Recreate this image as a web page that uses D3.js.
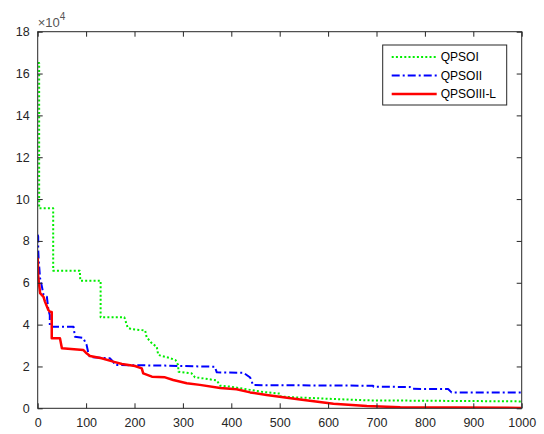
<!DOCTYPE html>
<html>
<head>
<meta charset="utf-8">
<script src="https://cdn.jsdelivr.net/npm/d3@7"></script>
<style>
  html, body { margin: 0; padding: 0; background: #fff; }
  svg { display: block; font-family: "Liberation Sans", Arial, sans-serif; }
</style>
</head>
<body>
<div id="chart"></div>
<script>
// values in units of 1e4, x = iteration
var qpso1 = [[0,16.5],[3,16.5],[3,9.56],[32,9.56],[32,6.58],[87,6.58],[88,6.1],[130,6.1],[130,4.35],[179,4.35],[186,3.85],[194,3.78],[222,3.72],[225,3.4],[236,3.1],[246,2.94],[249,2.55],[273,2.4],[285,2.3],[290,2.07],[291,1.75],[318,1.67],[325,1.48],[346,1.42],[370,1.33],[377,1.08],[400,1.03],[439,0.88],[466,0.78],[501,0.7],[502,0.56],[535,0.52],[597,0.46],[680,0.38],[1000,0.33]];
var qpso2 = [[0,8.3],[1,8.2],[1,7.6],[2,7.1],[5,6.2],[8,5.9],[12,5.42],[19,5.33],[22,4.7],[25,4.46],[25,3.9],[74,3.9],[77,3.42],[94,3.36],[101,3.03],[105,2.6],[108,2.45],[149,2.39],[156,2.23],[160,2.07],[263,2.04],[335,2.0],[366,1.99],[370,1.72],[425,1.7],[439,1.47],[445,1.11],[693,1.08],[694,1.03],[769,1.02],[773,0.93],[848,0.92],[855,0.76],[1000,0.76]];
var qpso3 = [[0,7.2],[1,6.3],[5,5.5],[12,5.33],[15,5.1],[22,4.7],[25,4.62],[29,4.6],[29,3.35],[46,3.35],[50,2.87],[94,2.79],[101,2.63],[108,2.5],[132,2.39],[156,2.23],[174,2.12],[201,2.02],[215,1.91],[218,1.67],[236,1.51],[263,1.48],[280,1.35],[308,1.2],[335,1.12],[377,0.97],[411,0.91],[439,0.76],[473,0.64],[542,0.42],[611,0.22],[680,0.11],[749,0.05],[1000,0.02]];

var xTicks = [0,100,200,300,400,500,600,700,800,900,1000];
var yTicks = [0,2,4,6,8,10,12,14,16,18];

var series = [
  {name: 'QPSOI', data: qpso1, color: '#00ee00', dash: '2,2.2', width: 2},
  {name: 'QPSOII', data: qpso2, color: '#0000ff', dash: '8,3,2,3', width: 2},
  {name: 'QPSOIII-L', data: qpso3, color: '#ff0000', dash: null, width: 2.5}
];

var W = 544, H = 434;
var m = {left: 37.7, right: 22.3, top: 31.7, bottom: 25.7};
var iw = W - m.left - m.right, ih = H - m.top - m.bottom;
var axisColor = '#262626';

var svg = d3.select('#chart').append('svg').attr('width', W).attr('height', H);
var g = svg.append('g').attr('transform', 'translate(' + m.left + ',' + m.top + ')');

var x = d3.scaleLinear().domain([0, 1000]).range([0, iw]);
var y = d3.scaleLinear().domain([0, 18]).range([ih, 0]);

g.append('defs').append('clipPath').attr('id', 'clip')
  .append('rect').attr('width', iw).attr('height', ih);

var line = d3.line().x(function(d) { return x(d[0]); }).y(function(d) { return y(d[1]); });

var plot = g.append('g').attr('clip-path', 'url(#clip)');
series.forEach(function(s) {
  plot.append('path')
    .attr('d', line(s.data))
    .attr('fill', 'none')
    .attr('stroke', s.color)
    .attr('stroke-width', s.width)
    .attr('stroke-dasharray', s.dash)
    .attr('stroke-linejoin', 'round');
});

// axes: ticks inward on all four sides
function styleAxis(sel) {
  sel.select('.domain').remove();
  sel.selectAll('.tick line').attr('stroke', axisColor);
  sel.selectAll('.tick text').attr('fill', axisColor).style('font-size', '12.5px');
}
g.append('g').attr('transform', 'translate(0,' + ih + ')')
  .call(d3.axisBottom(x).tickValues(xTicks).tickSize(-5).tickPadding(10).tickFormat(d3.format('d')))
  .call(styleAxis);
g.append('g')
  .call(d3.axisLeft(y).tickValues(yTicks).tickSize(-5).tickPadding(8).tickFormat(d3.format('d')))
  .call(styleAxis);
g.append('g')
  .call(d3.axisTop(x).tickValues(xTicks).tickSize(-5).tickFormat(''))
  .call(styleAxis);
g.append('g').attr('transform', 'translate(' + iw + ',0)')
  .call(d3.axisRight(y).tickValues(yTicks).tickSize(-5).tickFormat(''))
  .call(styleAxis);

g.append('rect').attr('width', iw).attr('height', ih)
  .attr('fill', 'none').attr('stroke', axisColor).attr('stroke-width', 1);

// exponent label
var ex = g.append('text').attr('x', 0).attr('y', -5).attr('fill', '#555').style('font-size', '13px');
ex.append('tspan').text('\u00d710');
ex.append('tspan').attr('dy', -7).style('font-size', '10px').text('4');

// legend
var lg = g.append('g').attr('transform', 'translate(' + (382.7 - m.left) + ',' + (45 - m.top) + ')');
lg.append('rect').attr('width', 124).attr('height', 60)
  .attr('fill', '#fff').attr('stroke', axisColor).attr('stroke-width', 1);
series.forEach(function(s, i) {
  var yy = 12 + i * 18.5;
  lg.append('line').attr('x1', 9).attr('x2', 54).attr('y1', yy).attr('y2', yy)
    .attr('stroke', s.color).attr('stroke-width', s.width).attr('stroke-dasharray', s.dash);
  lg.append('text').attr('x', 58).attr('y', yy).attr('dy', '0.35em')
    .style('font-size', '12px').attr('fill', '#000').text(s.name);
});
</script>
</body>
</html>
